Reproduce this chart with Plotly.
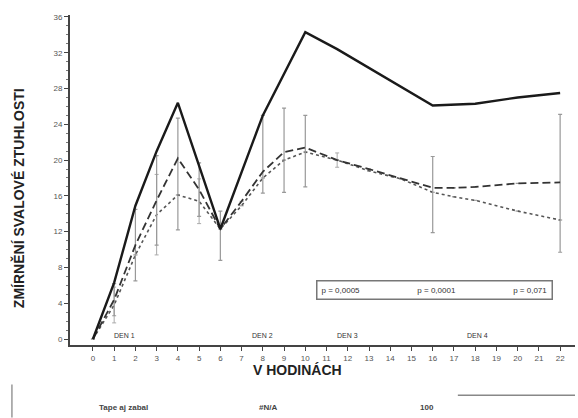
import plotly.graph_objects as go

# ---- data ----
tick_hours = list(range(23))
tick_labels = [str(h) for h in tick_hours]
y_ticks = [0, 4, 8, 12, 16, 20, 24, 28, 32, 36]

solid_x = [0, 1, 2, 3, 4, 6, 8, 10, 11.5, 16, 18, 20, 22]
solid_y = [0, 6.3, 14.9, 21.0, 26.4, 12.3, 25.0, 34.3, 32.4, 26.1, 26.3, 27.0, 27.5]

dash_x = [0, 1, 2, 3, 4, 5, 6, 7, 8, 9, 10, 11.5, 13, 16, 17, 18, 20, 22]
dash_y = [0, 4.4, 10.5, 15.5, 20.2, 16.7, 12.3, 15.4, 18.7, 20.9, 21.4, 20.0, 19.0, 16.9, 16.9, 17.0, 17.4, 17.5]
dash_err_plus = [0, 1.8, 4, 5, 4.5, 3, 2, 0, 6.3, 4.9, 3.6, 0, 0, 3.5, 0, 0, 0, 7.6]
dash_err_minus = [0, 1.8, 4, 5, 8, 3, 3.5, 0, 2.4, 4.5, 4.4, 0, 0, 5.0, 0, 0, 0, 7.8]

dot_x = [0, 1, 2, 3, 4, 5, 6, 7, 8, 9, 10, 11.5, 13, 14.5, 16, 17, 18, 20, 22]
dot_y = [0, 3.8, 9.4, 13.9, 16.1, 15.4, 12.3, 14.9, 18.0, 20.0, 20.9, 20.0, 18.8, 17.9, 16.4, 15.9, 15.5, 14.3, 13.3]
dot_err = [0, 2, 0, 4.5, 0, 2.5, 0, 0, 0, 0, 0, 0.8, 0, 0, 0, 0, 0, 0, 0]

day_labels = ["DEN 1", "DEN 2", "DEN 3", "DEN 4"]
day_x = [1.5, 8.0, 12.0, 18.1]

legend_entries = ["p = 0,0005", "p = 0,0001", "p = 0,071"]
legend_text = (" " * 26).join(legend_entries)
y_title = "ZMÍRNĚNÍ SVALOVÉ ZTUHLOSTI"
x_title = "V HODINÁCH"
bottom_texts = ["Tape aj zabal", "#N/A", "100"]
bottom_x = [0.105, 0.392, 0.707]

fig = go.Figure()

fig.add_trace(go.Scatter(
    x=dot_x, y=dot_y, mode="lines",
    line=dict(color="#555555", width=1.6, dash="3px,3px"),
    error_y=dict(type="data", array=dot_err, color="#aaaaaa", thickness=1, width=2),
    showlegend=False))

fig.add_trace(go.Scatter(
    x=dash_x, y=dash_y, mode="lines",
    line=dict(color="#333333", width=1.8, dash="8px,4px"),
    error_y=dict(type="data", symmetric=False, array=dash_err_plus,
                 arrayminus=dash_err_minus, color="#999999", thickness=1.2, width=2),
    showlegend=False))

fig.add_trace(go.Scatter(
    x=solid_x, y=solid_y, mode="lines",
    line=dict(color="#1a1a1a", width=2.4),
    showlegend=False))

annotations = []
for t, xv in zip(day_labels, day_x):
    annotations.append(dict(x=xv, y=0.4, xref="x", yref="y", text=t, showarrow=False,
                            xanchor="center", yanchor="middle",
                            font=dict(size=7, color="#333333", family="Liberation Sans")))

annotations.append(dict(x=0.721, y=0.167, xref="paper", yref="paper", text=legend_text,
                        xanchor="center", yanchor="middle",
                        showarrow=False, bgcolor="white", bordercolor="#777777", borderwidth=1.5,
                        borderpad=4, font=dict(size=8, color="#333333", family="Liberation Sans")))

annotations.append(dict(x=0.45, y=-0.076, xref="paper", yref="paper", text="<b>" + x_title + "</b>",
                        xanchor="center", yanchor="middle",
                        showarrow=False, font=dict(size=14, color="#222222", family="Liberation Sans")))

annotations.append(dict(x=-0.103, y=0.445, xref="paper", yref="paper", text="<b>" + y_title + "</b>",
                        xanchor="center", yanchor="middle",
                        textangle=-90, showarrow=False,
                        font=dict(size=14, color="#222222", family="Liberation Sans")))

for t, xv in zip(bottom_texts, bottom_x):
    annotations.append(dict(x=xv, y=-0.188, xref="paper", yref="paper", text="<b>" + t + "</b>",
                            xanchor="center", yanchor="middle",
                            showarrow=False, font=dict(size=8, color="#444444", family="Liberation Sans")))

shapes = [
    dict(type="line", xref="paper", yref="paper", x0=-0.115, x1=-0.115, y0=-0.12, y1=-0.22,
         line=dict(color="#999999", width=1.5)),
    dict(type="line", xref="paper", yref="paper", x0=0.768, x1=1.0, y0=-0.152, y1=-0.152,
         line=dict(color="#888888", width=1.5)),
]

fig.update_layout(
    width=578, height=418,
    margin=dict(l=70, r=3, t=15, b=73),
    paper_bgcolor="white", plot_bgcolor="white",
    annotations=annotations, shapes=shapes,
    font=dict(family="Liberation Sans", color="#444444"),
)

fig.update_xaxes(
    range=[-1.08, 22.7], tickmode="array", tickvals=tick_hours, ticktext=tick_labels,
    showgrid=False, zeroline=False, showline=True, linecolor="#444444", linewidth=2,
    ticks="outside", ticklen=4, tickcolor="#444444", tickfont=dict(size=8, color="#555555"))

fig.update_yaxes(
    range=[-0.67, 36.22], tickmode="array", tickvals=y_ticks,
    showgrid=False, zeroline=False, showline=True, linecolor="#444444", linewidth=2,
    ticks="outside", ticklen=4, tickcolor="#444444", tickfont=dict(size=8, color="#555555"),
    minor=dict(ticks="outside", ticklen=2, dtick=1, tickcolor="#777777"))

fig.write_html("out.html")
